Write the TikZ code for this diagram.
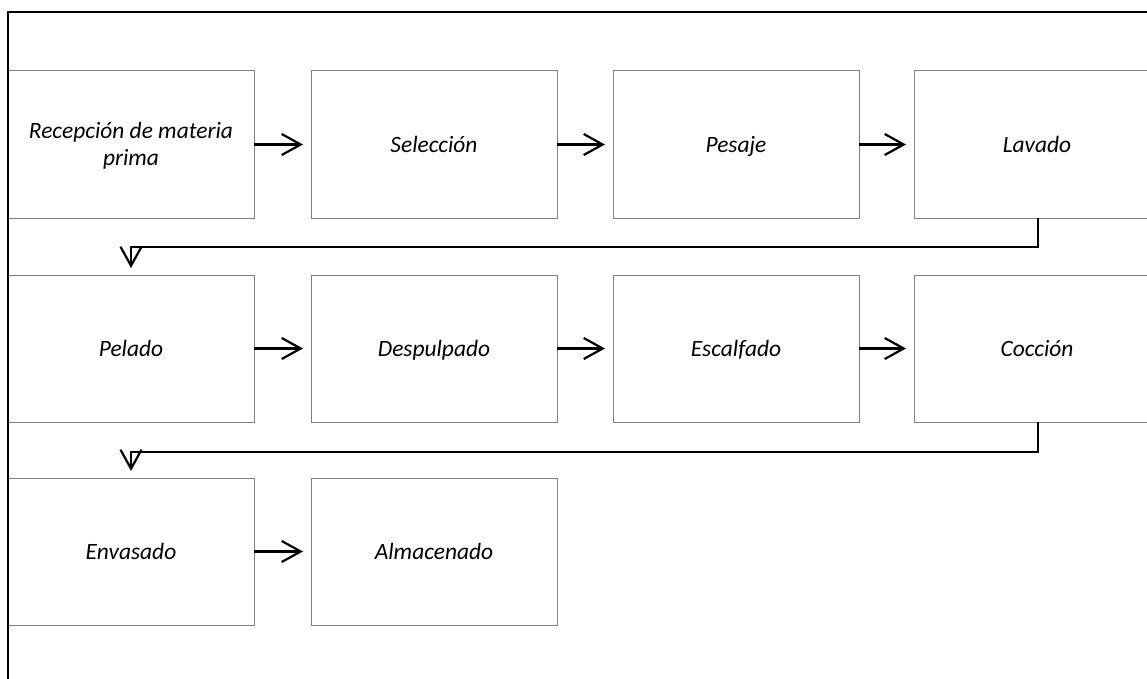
\documentclass[tikz,border=0pt]{standalone}
\usepackage{fontspec}
\setmainfont{Carlito}
\usetikzlibrary{arrows.meta}
% strut that keeps labels at a common vertical position
\newcommand\labelstrut{\rule[-6bp]{0pt}{27bp}}
\begin{document}
\begin{tikzpicture}[x=1bp,y=-1bp,
  stepbox/.style={draw=black!50, line width=1bp, fill=white,
    anchor=north west, inner xsep=4bp, inner ysep=0pt, outer sep=0pt,
    text width=238bp, minimum height=147bp, align=flush center,
    font=\fontsize{23.5}{27}\selectfont\itshape,
    execute at begin node=\labelstrut, execute at end node=\labelstrut},
  flow/.style={line width=2.2bp, -{Straight Barb[length=19bp,width=21bp,line width=2.2bp]}},
  ret/.style={line width=2.2bp,
    -{Straight Barb[length=19bp,width=21bp,line width=2.2bp]}}]
\useasboundingbox (0,0) rectangle (1147,679);
\clip (0,0) rectangle (1147,679);

% process boxes, three rows
\node[stepbox] (a1) at (8,71)   {Recepción de materia prima};
\node[stepbox] (a2) at (311,71) {Selección};
\node[stepbox] (a3) at (613,71) {Pesaje};
\node[stepbox] (a4) at (914,71) {Lavado};

\node[stepbox] (b1) at (8,275)   {Pelado};
\node[stepbox] (b2) at (311,275) {Despulpado};
\node[stepbox] (b3) at (613,275) {Escalfado};
\node[stepbox] (b4) at (914,275) {Cocción};

\node[stepbox] (c1) at (8,478)   {Envasado};
\node[stepbox] (c2) at (311,478) {Almacenado};

% arrows within rows
\foreach \s/\t in {a1/a2,a2/a3,a3/a4,b1/b2,b2/b3,b3/b4,c1/c2}
  \draw[flow, shorten >=8bp] (\s.east) -- (\t.west);

% returns to the start of the next row
\coordinate (r1) at ([xshift=1bp]a4.south);
\coordinate (r2) at ([xshift=1bp]b4.south);
\draw[ret, shorten >=7bp] (r1) -- ++(0,29) -| (b1.north);
\draw[ret, shorten >=7bp] (r2) -- ++(0,30) -| (c1.north);

% outer frame
\draw[line width=1.5bp] (8,679) -- (8,12) -- (1147,12);
\end{tikzpicture}
\end{document}
